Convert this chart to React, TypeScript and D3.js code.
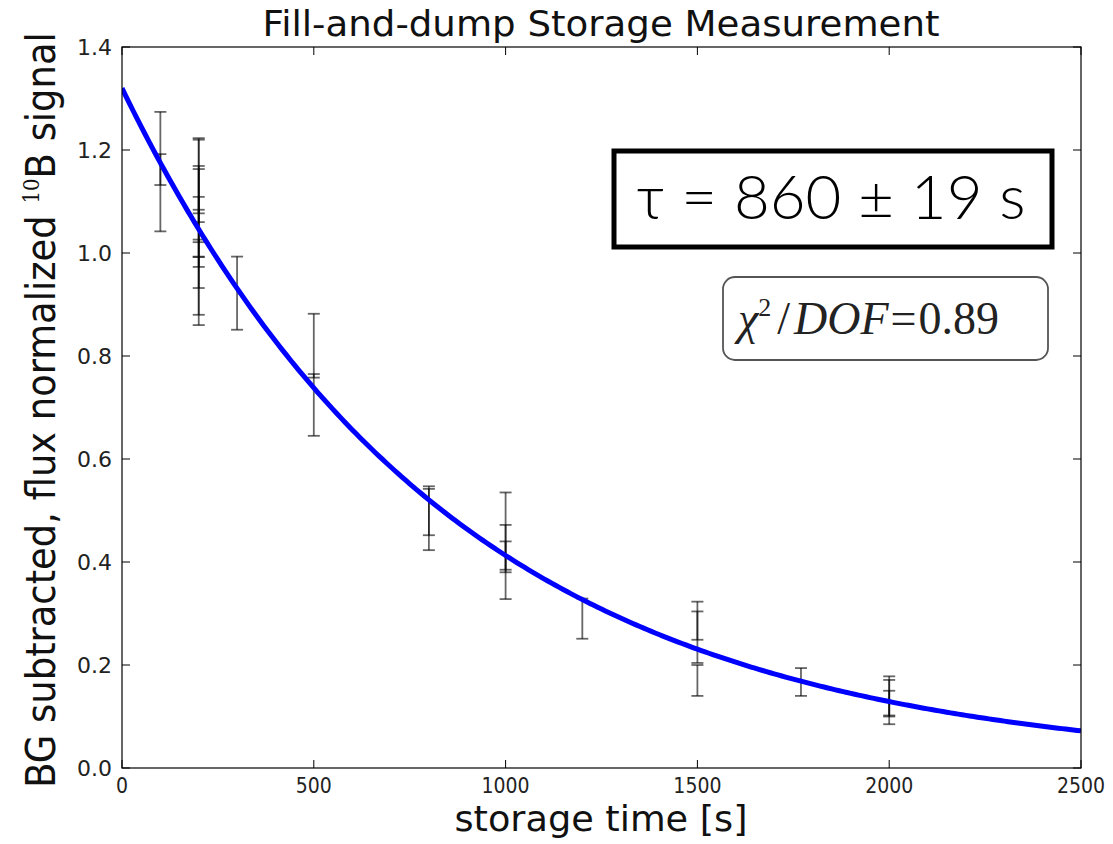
import React from "react";
import * as d3 from "d3";

// Data: storage time [s], signal, error
const pointTimes = [100, 100, 200, 200, 200, 200, 200, 200, 200, 200, 300, 500, 500, 800, 800, 1000, 1000, 1000, 1200, 1500, 1500, 1500, 1770, 2000, 2000, 2000];
const pointValues = [1.203, 1.117, 1.150, 1.140, 1.095, 1.078, 1.041, 1.008, 0.953, 0.926, 0.922, 0.820, 0.705, 0.485, 0.497, 0.460, 0.400, 0.410, 0.290, 0.286, 0.254, 0.170, 0.167, 0.140, 0.128, 0.125];
const pointErrors = [0.071, 0.075, 0.073, 0.080, 0.074, 0.085, 0.068, 0.076, 0.073, 0.066, 0.071, 0.062, 0.060, 0.062, 0.045, 0.075, 0.072, 0.030, 0.039, 0.037, 0.050, 0.030, 0.027, 0.038, 0.043, 0.025];

const fitAmplitude = 1.32;
const fitTau = 860;
const xTicks = [0, 500, 1000, 1500, 2000, 2500];
const yTicks = [0.0, 0.2, 0.4, 0.6, 0.8, 1.0, 1.2, 1.4];

export default function App() {
  const W = 1113, H = 844;
  const L = 122, R = 1081, T = 47, B = 768;
  const x = d3.scaleLinear().domain([0, 2500]).range([L, R]);
  const y = d3.scaleLinear().domain([0, 1.4]).range([B, T]);

  const fitX = d3.range(0, 2501, 10);
  const line = d3.line<number>().x((t) => x(t)).y((t) => y(fitAmplitude * Math.exp(-t / fitTau)));

  const tickLen = 8;
  const cap = 6;

  return (
    <svg width={W} height={H} style={{ position: "absolute", left: 0, top: 0, background: "#fff" }}>
      <rect x={0} y={0} width={W} height={H} fill="#fff" />
      <defs>
        <clipPath id="plotclip">
          <rect x={L} y={T} width={R - L} height={B - T} />
        </clipPath>
      </defs>
      {/* error bars */}
      <g stroke="#000" strokeOpacity={0.6} strokeWidth={1.8} fill="none">
        {pointTimes.map((t, i) => {
          const cx = x(t);
          const y1 = y(pointValues[i] + pointErrors[i]);
          const y2 = y(pointValues[i] - pointErrors[i]);
          return (
            <g key={i}>
              <line x1={cx} x2={cx} y1={y1} y2={y2} />
              <line x1={cx - cap} x2={cx + cap} y1={y1} y2={y1} />
              <line x1={cx - cap} x2={cx + cap} y1={y2} y2={y2} />
            </g>
          );
        })}
      </g>
      {/* fit */}
      <path d={line(fitX) || ""} fill="none" stroke="#0000ff" strokeWidth={5} clipPath="url(#plotclip)" />
      {/* frame */}
      <rect x={L} y={T} width={R - L} height={B - T} fill="none" stroke="#000" strokeWidth={1.2} />
      {/* ticks */}
      <g stroke="#000" strokeWidth={1}>
        {xTicks.map((t) => (
          <g key={"xt" + t}>
            <line x1={x(t)} x2={x(t)} y1={B} y2={B - tickLen} />
            <line x1={x(t)} x2={x(t)} y1={T} y2={T + tickLen} />
          </g>
        ))}
        {yTicks.map((v) => (
          <g key={"yt" + v}>
            <line x1={L} x2={L + tickLen} y1={y(v)} y2={y(v)} />
            <line x1={R} x2={R - tickLen} y1={y(v)} y2={y(v)} />
          </g>
        ))}
      </g>
      <g fill="#222">
        {xTicks.map((t) => (
          <text key={"xl" + t} x={x(t)} y={B + 25} textAnchor="middle" fontFamily="DejaVu Sans Condensed, DejaVu Sans" fontSize={21} style={{ fontStretch: "condensed" }}>
            {t}
          </text>
        ))}
        {yTicks.map((v) => (
          <text key={"yl" + v} x={L - 10} y={y(v) + 8} textAnchor="end" fontFamily="DejaVu Sans" fontSize={22}>
            {v.toFixed(1)}
          </text>
        ))}
      </g>
      {/* title */}
      <text x={601} y={36} textAnchor="middle" fontFamily="DejaVu Sans" fontSize={36} fill="#111" textLength={677} lengthAdjust="spacingAndGlyphs">
        Fill-and-dump Storage Measurement
      </text>
      {/* x label */}
      <text x={601} y={831} textAnchor="middle" fontFamily="DejaVu Sans Condensed, DejaVu Sans" fontSize={35} fill="#111" style={{ fontStretch: "condensed" }} textLength={293} lengthAdjust="spacingAndGlyphs">
        storage time [s]
      </text>
      {/* y label */}
      <text transform={`translate(55, ${410}) rotate(-90)`} textAnchor="middle" fontFamily="DejaVu Sans Condensed, DejaVu Sans" fontSize={41} fill="#111" style={{ fontStretch: "condensed" }}>
        BG subtracted, flux normalized{" "}
        <tspan fontSize={22} dy={-16} fontFamily="DejaVu Serif, serif">10</tspan>
        <tspan dy={16}>B signal</tspan>
      </text>
      {/* tau box */}
      <rect x={614} y={151} width={438} height={96} fill="#fff" stroke="#000" strokeWidth={5} />
      <text x={831} y={219} textAnchor="middle" fontFamily="Lato, DejaVu Sans" fontSize={62} fill="#000" fontWeight={300} textLength={389} lengthAdjust="spacingAndGlyphs">
        τ = 860 ± 19 s
      </text>
      {/* chi2 box */}
      <rect x={723} y={277} width={325} height={83} rx={12} ry={12} fill="#fff" stroke="#555" strokeWidth={1.8} />
      <text x={738} y={334} fontFamily="Liberation Serif, DejaVu Serif, serif" fontSize={46} fill="#222">
        <tspan fontStyle="italic">χ</tspan>
        <tspan fontSize={26} dy={-18}>2</tspan>
        <tspan dy={18} dx={6}>/</tspan>
        <tspan fontStyle="italic" dx={4}>DOF</tspan>
        <tspan dx={2}>=</tspan>
        <tspan dx={2}>0.89</tspan>
      </text>
    </svg>
  );
}
